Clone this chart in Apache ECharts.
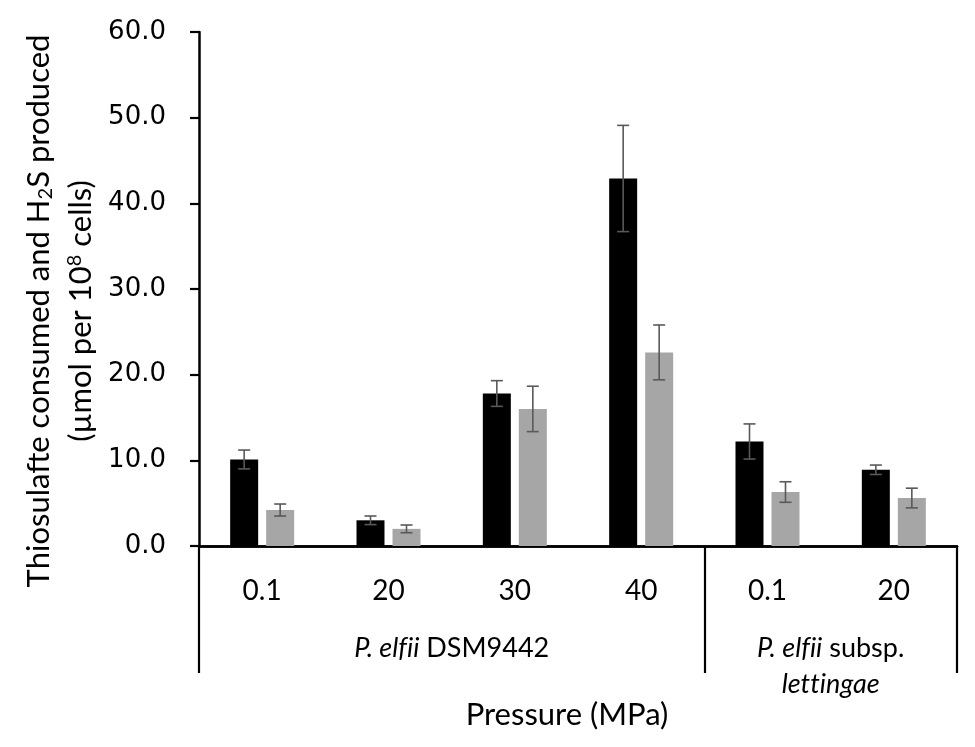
<!DOCTYPE html>
<html>
<head>
<meta charset="utf-8">
<script src="https://cdn.jsdelivr.net/npm/echarts@6/dist/echarts.min.js"></script>
<style>
  html, body { margin: 0; padding: 0; background: #fff; }
  #chart { width: 975px; height: 747px; }
</style>
</head>
<body>
<div id="chart"></div>
<script>
// values
const pressures = ['0.1', '20', '30', '40', '0.1', '20'];
const thiosulfate = [10.1, 3.0, 17.8, 42.9, 12.2, 8.9];
const thiosulfateErr = [1.1, 0.5, 1.5, 6.2, 2.05, 0.55];
const h2s = [4.2, 2.0, 16.0, 22.6, 6.3, 5.6];
const h2sErr = [0.7, 0.45, 2.65, 3.2, 1.2, 1.15];
// strain groups: label position (center) and borders in category units
// (\u200C keeps the font from joining fi / tt into ligatures)
const groupLabels = ['{i|P. elf\u200Cii} {n|DSM9442}', '{i|P. elf\u200Cii} {n|subsp.}\n{i|let\u200Ct\u200Cingae}'];
const groupCenters = [2, 5];
const groupBorders = [0, 4, 6];

const barW = 28;
const gapW = 8;
const font = 'Lato';

const chart = echarts.init(document.getElementById('chart'), null, { renderer: 'canvas' });

function errorSeries(vals, errs, shift) {
  return {
    type: 'custom',
    xAxisIndex: 0,
    yAxisIndex: 0,
    z: 5,
    data: vals.map((v, i) => [i, v, errs[i]]),
    encode: { x: 0, y: 1 },
    renderItem: function (params, api) {
      const i = api.value(0), v = api.value(1), e = api.value(2);
      const top = api.coord([i, v + e]);
      const bot = api.coord([i, v - e]);
      const x = top[0] + shift;
      const cap = 6;
      const st = { stroke: '#595959', lineWidth: 1.6 };
      return {
        type: 'group',
        children: [
          { type: 'line', shape: { x1: x, y1: top[1], x2: x, y2: bot[1] }, style: st },
          { type: 'line', shape: { x1: x - cap, y1: top[1], x2: x + cap, y2: top[1] }, style: st },
          { type: 'line', shape: { x1: x - cap, y1: bot[1], x2: x + cap, y2: bot[1] }, style: st }
        ]
      };
    }
  };
}

const groupText = { fontFamily: font, fontSize: 27, color: '#000', lineHeight: 36 };

chart.setOption({
  animation: false,
  grid: { left: 199, right: 18, top: 32, bottom: 201, containLabel: false },
  xAxis: [
    {
      type: 'category',
      data: pressures,
      axisLine: { lineStyle: { color: '#000', width: 2.5 } },
      axisTick: { show: false },
      axisLabel: {
        color: '#000', fontFamily: font, fontSize: 28,
        margin: 45, verticalAlign: 'middle'
      },
      name: 'Pressure (MPa)',
      nameLocation: 'middle',
      nameGap: 169,
      nameTextStyle: {
        color: '#000', fontFamily: font, fontSize: 31,
        verticalAlign: 'middle', padding: [0, 22, 0, 0]
      }
    },
    {
      type: 'value',
      position: 'bottom',
      min: 0, max: 6,
      splitLine: { show: false },
      axisLine: { show: true, lineStyle: { color: '#000', width: 2.5 } },
      axisTick: {
        show: true, inside: false, length: 127,
        customValues: groupBorders,
        lineStyle: { color: '#000', width: 2.2 }
      },
      axisLabel: {
        customValues: groupCenters,
        formatter: v => groupLabels[groupCenters.indexOf(v)],
        margin: 84, verticalAlign: 'top',
        color: '#000', fontFamily: font, fontSize: 27, lineHeight: 36,
        rich: {
          i: Object.assign({ fontStyle: 'italic' }, groupText),
          n: groupText
        }
      }
    }
  ],
  yAxis: {
    type: 'value',
    min: 0, max: 60, interval: 10,
    splitLine: { show: false },
    axisLine: { show: true, lineStyle: { color: '#000', width: 2.5 } },
    axisTick: { show: true, length: 9, lineStyle: { color: '#000', width: 2.2 } },
    axisLabel: {
      formatter: v => v.toFixed(1),
      color: '#000', fontFamily: 'DejaVu Sans', fontSize: 26, margin: 33
    },
    name: '{t|Thiosulafte consumed and H}{sb|2}{t|S produced}\n{t|(µmol per 10}{sp|8}{t| cells)}',
    nameLocation: 'middle',
    nameGap: 138,
    nameTextStyle: {
      verticalAlign: 'middle',
      padding: [0, 44, 0, 0],
      rich: {
        t: { fontFamily: font, fontSize: 31, color: '#000', lineHeight: 42 },
        sb: { fontFamily: font, fontSize: 20, color: '#000', lineHeight: 42, padding: [13, 0, 0, 0] },
        sp: { fontFamily: font, fontSize: 20, color: '#000', lineHeight: 42, padding: [0, 0, 13, 0] }
      }
    }
  },
  series: [
    {
      name: 'Thiosulfate consumed',
      type: 'bar',
      data: thiosulfate,
      barWidth: barW,
      barGap: (gapW / barW * 100).toFixed(1) + '%',
      itemStyle: { color: '#000' }
    },
    {
      name: 'H2S produced',
      type: 'bar',
      data: h2s,
      barWidth: barW,
      itemStyle: { color: '#a6a6a6' }
    },
    errorSeries(thiosulfate, thiosulfateErr, -(barW + gapW) / 2),
    errorSeries(h2s, h2sErr, (barW + gapW) / 2)
  ]
});
</script>
</body>
</html>
